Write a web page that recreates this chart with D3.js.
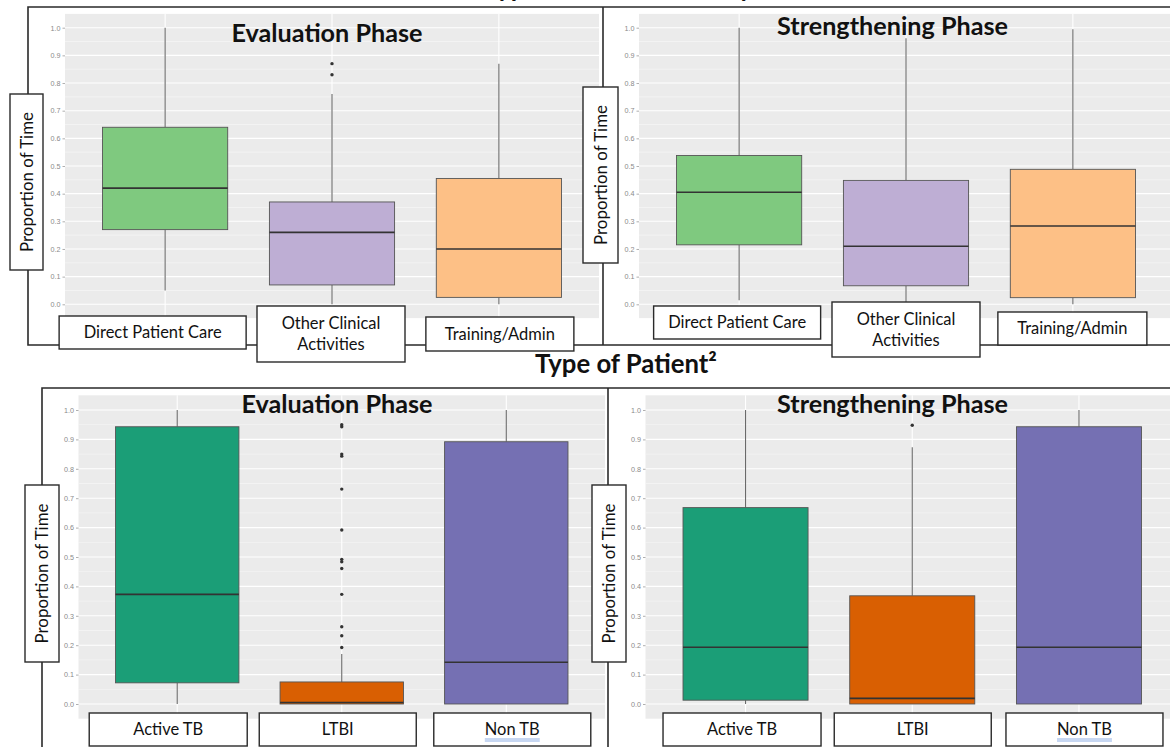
<!DOCTYPE html>
<html>
<head>
<meta charset="utf-8">
<script src="https://cdn.jsdelivr.net/npm/d3@7"></script>
<style>
  html, body { margin: 0; padding: 0; background: #fff; }
  svg { display: block; }
</style>
</head>
<body>
<svg id="chart" width="1170" height="747"></svg>
<script>
// ---- Categories ----
const activityCats = ["Direct Patient Care", "Other Clinical Activities", "Training/Admin"];
const patientCats  = ["Active TB", "LTBI", "Non TB"];
const activityColors = ["#7fc97f", "#beaed4", "#fdc086"];
const patientColors  = ["#1b9e77", "#d95f02", "#7570b3"];

// ---- Y axis ticks ----
const yTickValues = [0.0, 0.1, 0.2, 0.3, 0.4, 0.5, 0.6, 0.7, 0.8, 0.9, 1.0];
const yTickLabels = ["0.0", "0.1", "0.2", "0.3", "0.4", "0.5", "0.6", "0.7", "0.8", "0.9", "1.0"];

// ---- Type of activity, evaluation phase ----
const activityEvalLower    = [0.05, 0.00, 0.00];
const activityEvalQ1       = [0.27, 0.07, 0.025];
const activityEvalMedian   = [0.42, 0.26, 0.20];
const activityEvalQ3       = [0.64, 0.37, 0.455];
const activityEvalUpper    = [1.00, 0.76, 0.87];
const activityEvalOutliers = [[], [0.87, 0.83], []];

// ---- Type of activity, strengthening phase ----
const activityStrLower    = [0.015, 0.00, 0.00];
const activityStrQ1       = [0.215, 0.067, 0.024];
const activityStrMedian   = [0.405, 0.21, 0.283];
const activityStrQ3       = [0.538, 0.448, 0.488];
const activityStrUpper    = [1.00, 0.962, 0.994];
const activityStrOutliers = [[], [], []];

// ---- Type of patient, evaluation phase ----
const patientEvalLower    = [0.00, 0.00, 0.00];
const patientEvalQ1       = [0.072, 0.00, 0.00];
const patientEvalMedian   = [0.373, 0.005, 0.142];
const patientEvalQ3       = [0.943, 0.075, 0.892];
const patientEvalUpper    = [1.00, 0.17, 1.00];
const patientEvalOutliers = [[], [0.95, 0.943, 0.85, 0.843, 0.731, 0.592, 0.492, 0.484, 0.461, 0.373, 0.263, 0.232, 0.192], []];

// ---- Type of patient, strengthening phase ----
const patientStrLower    = [0.00, 0.00, 0.00];
const patientStrQ1       = [0.013, 0.00, 0.00];
const patientStrMedian   = [0.193, 0.019, 0.193];
const patientStrQ3       = [0.668, 0.368, 0.943];
const patientStrUpper    = [1.00, 0.873, 1.00];
const patientStrOutliers = [[], [0.948], []];

// ---- Text ----
const sectionTitles = ["Type of Clinical Activity\u00b9", "Type of Patient\u00b2"];
const phaseTitles = ["Evaluation Phase", "Strengthening Phase"];
const yAxisTitle = "Proportion of Time";

function stats(cats, colors, lo, q1, med, q3, hi, out) {
  return cats.map((c, i) => ({ cat: c, color: colors[i], lo: lo[i], q1: q1[i], med: med[i], q3: q3[i], hi: hi[i], out: out[i] }));
}

const FONT = "Lato, 'Open Sans', 'DejaVu Sans', sans-serif";
const svg = d3.select("#chart");

// Fit a font size so that a reference string reaches a given width
function fitSize(str, weight, target) {
  const t = svg.append("text").attr("font-family", FONT).attr("font-weight", weight)
    .attr("font-size", 100).text(str);
  const w = t.node().getComputedTextLength();
  t.remove();
  return 100 * target / w;
}
const titleSize   = fitSize("Evaluation Phase", 700, 191);
const sectionSize = fitSize("Type of Patient\u00b2", 700, 182);
const labelSize   = fitSize("Direct Patient Care", 400, 138);
const yLabelSize  = fitSize("Proportion of Time", 400, 140);

// Panel layout
const panels = [
  { data: stats(activityCats, activityColors, activityEvalLower, activityEvalQ1, activityEvalMedian, activityEvalQ3, activityEvalUpper, activityEvalOutliers),
    x0: 65, x1: 599, y0: 304.3, y1: 27.7, title: phaseTitles[0], titleX: 327, titleY: 41.5,
    yBox: { x: 10, y: 94, w: 33, h: 176 },
    labels: [ { dx: -12.5, w: 187, y: 316, h: 33, lines: ["Direct Patient Care"] },
              { dx: -1,    w: 148, y: 306, h: 56, lines: ["Other Clinical", "Activities"] },
              { dx: 1,     w: 148, y: 317, h: 34, lines: ["Training/Admin"] } ] },
  { data: stats(activityCats, activityColors, activityStrLower, activityStrQ1, activityStrMedian, activityStrQ3, activityStrUpper, activityStrOutliers),
    x0: 639, x1: 1173, y0: 304.3, y1: 27.7, title: phaseTitles[1], titleX: 892.5, titleY: 35,
    yBox: { x: 583, y: 87, w: 35, h: 176 },
    labels: [ { dx: -2,  w: 167, y: 306, h: 33, lines: ["Direct Patient Care"] },
              { dx: 0,   w: 148, y: 302, h: 55, lines: ["Other Clinical", "Activities"] },
              { dx: -0.5, w: 149, y: 312, h: 33, lines: ["Training/Admin"] } ] },
  { data: stats(patientCats, patientColors, patientEvalLower, patientEvalQ1, patientEvalMedian, patientEvalQ3, patientEvalUpper, patientEvalOutliers),
    x0: 78.5, x1: 605, y0: 704, y1: 410, title: phaseTitles[0], titleX: 337, titleY: 413,
    yBox: { x: 25, y: 485, w: 34, h: 177 },
    labels: [ { dx: -9, w: 158, y: 713, h: 33, lines: ["Active TB"] },
              { dx: -4, w: 157, y: 713, h: 33, lines: ["LTBI"] },
              { dx: 6,  w: 157, y: 713, h: 33, lines: ["Non TB"], underline: true } ] },
  { data: stats(patientCats, patientColors, patientStrLower, patientStrQ1, patientStrMedian, patientStrQ3, patientStrUpper, patientStrOutliers),
    x0: 645.5, x1: 1179, y0: 704, y1: 410, title: phaseTitles[1], titleX: 892.5, titleY: 413,
    yBox: { x: 592, y: 485, w: 34, h: 177 },
    labels: [ { dx: -3.5, w: 158, y: 713, h: 33, lines: ["Active TB"] },
              { dx: 0.5,  w: 157, y: 713, h: 33, lines: ["LTBI"] },
              { dx: 5.5,  w: 157, y: 713, h: 33, lines: ["Non TB"], underline: true } ] }
];

const plotLayer  = svg.append("g");
const frameLayer = svg.append("g");
const textLayer  = svg.append("g");

panels.forEach(p => {
  const y = d3.scaleLinear().domain([0, 1]).range([p.y0, p.y1]);
  const x = d3.scalePoint().domain(p.data.map(d => d.cat)).range([p.x0, p.x1]).padding(0.6);
  const bw = x.step() * 0.75;
  const top = y(1.05), bottom = y(-0.05);
  const right = Math.min(p.x1, 1170);

  const g = plotLayer.append("g");
  g.append("rect").attr("x", p.x0).attr("y", top).attr("width", right - p.x0).attr("height", bottom - top)
    .attr("fill", "#ebebeb");

  // minor grid
  const minor = d3.range(0.05, 1.0, 0.1);
  g.selectAll(".minor").data(minor).join("line")
    .attr("x1", p.x0).attr("x2", right).attr("y1", d => y(d)).attr("y2", d => y(d))
    .attr("stroke", "#f6f6f6").attr("stroke-width", 0.7);
  // major grid
  g.selectAll(".major").data(yTickValues).join("line")
    .attr("x1", p.x0).attr("x2", right).attr("y1", d => y(d)).attr("y2", d => y(d))
    .attr("stroke", "#ffffff").attr("stroke-width", 1.1);
  g.selectAll(".vmajor").data(p.data).join("line")
    .attr("x1", d => x(d.cat)).attr("x2", d => x(d.cat)).attr("y1", top).attr("y2", bottom)
    .attr("stroke", "#ffffff").attr("stroke-width", 1.1);

  // y axis
  const axis = d3.axisLeft(y).tickValues(yTickValues).tickFormat((d, i) => yTickLabels[i])
    .tickSize(2.5).tickPadding(2);
  const ag = g.append("g").attr("transform", `translate(${p.x0},0)`).call(axis);
  ag.select(".domain").remove();
  ag.selectAll(".tick line").attr("stroke", "#9a9a9a").attr("stroke-width", 0.8);
  ag.selectAll(".tick text").attr("fill", "#8a8a8a").attr("font-size", 7.2)
    .attr("font-family", "'Liberation Sans', Arial, sans-serif");

  // boxplots
  const b = g.selectAll(".box").data(p.data).join("g");
  b.append("line").attr("x1", d => x(d.cat)).attr("x2", d => x(d.cat))
    .attr("y1", d => y(d.q3)).attr("y2", d => y(d.hi))
    .attr("stroke", "#6a6a6a").attr("stroke-width", 1.1);
  b.append("line").attr("x1", d => x(d.cat)).attr("x2", d => x(d.cat))
    .attr("y1", d => y(d.q1)).attr("y2", d => y(d.lo))
    .attr("stroke", "#6a6a6a").attr("stroke-width", 1.1);
  b.append("rect").attr("x", d => x(d.cat) - bw / 2).attr("width", bw)
    .attr("y", d => y(d.q3)).attr("height", d => Math.max(0.5, y(d.q1) - y(d.q3)))
    .attr("fill", d => d.color).attr("stroke", "#555").attr("stroke-width", 0.9);
  b.append("line").attr("x1", d => x(d.cat) - bw / 2).attr("x2", d => x(d.cat) + bw / 2)
    .attr("y1", d => y(d.med)).attr("y2", d => y(d.med))
    .attr("stroke", "#333").attr("stroke-width", 1.6);
  b.selectAll("circle").data(d => d.out.map(v => ({ v, cat: d.cat }))).join("circle")
    .attr("cx", d => x(d.cat)).attr("cy", d => y(d.v)).attr("r", 1.7).attr("fill", "#333");

  // phase title
  textLayer.append("text").attr("x", p.titleX).attr("y", p.titleY).attr("text-anchor", "middle")
    .attr("font-family", FONT).attr("font-weight", 700).attr("font-size", titleSize)
    .attr("fill", "#111").text(p.title);

  // category label boxes
  p.labels.forEach((L, i) => {
    const cx = x(p.data[i].cat) + L.dx;
    textLayer.append("rect").attr("x", cx - L.w / 2).attr("y", L.y).attr("width", L.w).attr("height", L.h)
      .attr("fill", "#fff").attr("stroke", "#2a2a2a").attr("stroke-width", 1.4);
    const n = L.lines.length, lh = 21;
    L.lines.forEach((s, k) => {
      const cy = L.y + L.h / 2 + (k - (n - 1) / 2) * lh;
      const t = textLayer.append("text").attr("x", cx).attr("y", cy).attr("dy", "0.36em")
        .attr("text-anchor", "middle").attr("font-family", FONT).attr("font-size", labelSize)
        .attr("fill", "#111").text(s);
      if (L.underline) {
        const w = t.node().getComputedTextLength();
        [3.6, 5.6].forEach(off => {
          textLayer.append("line").attr("x1", cx - w / 2).attr("x2", cx + w / 2)
            .attr("y1", cy + labelSize * 0.36 + off).attr("y2", cy + labelSize * 0.36 + off)
            .attr("stroke", "#8fb0e6").attr("stroke-width", 1.1);
        });
      }
    });
  });

  // y axis title box
  const yb = p.yBox;
  textLayer.append("rect").attr("x", yb.x).attr("y", yb.y).attr("width", yb.w).attr("height", yb.h)
    .attr("fill", "#fff").attr("stroke", "#2a2a2a").attr("stroke-width", 1.4);
  textLayer.append("text")
    .attr("transform", `translate(${yb.x + yb.w / 2},${yb.y + yb.h / 2}) rotate(-90)`)
    .attr("dy", "0.36em").attr("text-anchor", "middle")
    .attr("font-family", FONT).attr("font-size", yLabelSize).attr("fill", "#111").text(yAxisTitle);
});

// section frames
const frame = frameLayer.append("g").attr("stroke", "#2a2a2a").attr("stroke-width", 1.6).attr("fill", "none");
frame.append("path").attr("d", "M1170,7 H28 V345 H1170");
frame.append("path").attr("d", "M603,7 V345");
frame.append("path").attr("d", "M1170,388 H42 V747");
frame.append("path").attr("d", "M608,388 V747");

// section titles
textLayer.append("text").attr("x", 484).attr("y", -3).attr("text-anchor", "start")
  .attr("font-family", FONT).attr("font-weight", 700).attr("font-size", sectionSize)
  .attr("fill", "#111").text(sectionTitles[0]);
textLayer.append("text").attr("x", 626).attr("y", 373).attr("text-anchor", "middle")
  .attr("font-family", FONT).attr("font-weight", 700).attr("font-size", sectionSize)
  .attr("fill", "#111").text(sectionTitles[1]);
</script>
</body>
</html>
